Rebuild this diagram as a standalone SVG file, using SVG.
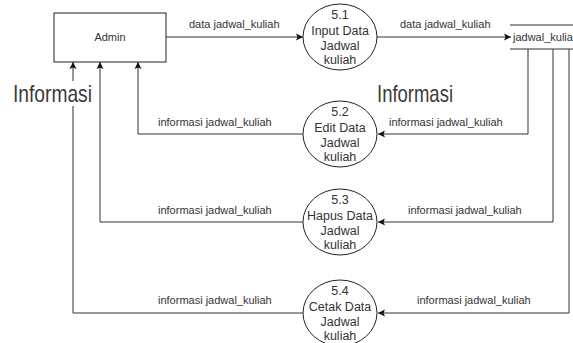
<svg xmlns="http://www.w3.org/2000/svg" width="573" height="343" viewBox="0 0 573 343">
<style>
.box{fill:#fff;stroke:#222;stroke-width:1}
.ln{fill:none;stroke:#333;stroke-width:1}
.t{font-family:"Liberation Sans",Arial,sans-serif;font-size:11px;fill:#333}
.c{font-family:"Liberation Sans",Arial,sans-serif;font-size:12.5px;fill:#333;text-anchor:middle}
.big{font-family:"Liberation Sans",Arial,sans-serif;font-size:24px;fill:#3a3a3a}
</style>
<defs>
<marker id="arr" markerUnits="userSpaceOnUse" markerWidth="8" markerHeight="8" refX="7" refY="4" orient="auto">
<path d="M0,0.5 L7,4 L0,7.5 L1.5,4 z" fill="#111"/>
</marker>
</defs>
<g id="connectors">
<path class="ln" d="M166,37 L303,37" marker-end="url(#arr)"/>
<path class="ln" d="M377,37 L511,37" marker-end="url(#arr)"/>
<path class="ln" d="M528,49 L528,134 L378,134" marker-end="url(#arr)"/>
<path class="ln" d="M553,49 L553,222 L378,222" marker-end="url(#arr)"/>
<path class="ln" d="M569,49 L569,313 L378,313" marker-end="url(#arr)"/>
<path class="ln" d="M303,134 L138,134 L138,62" marker-end="url(#arr)"/>
<path class="ln" d="M303,222 L100,222 L100,62" marker-end="url(#arr)"/>
<path class="ln" d="M303,313 L73,313 L73,62" marker-end="url(#arr)"/>
<text class="t" x="189" y="28">data jadwal_kuliah</text>
<text class="t" x="400" y="28">data jadwal_kuliah</text>
<text class="t" x="389" y="126">informasi jadwal_kuliah</text>
<text class="t" x="408" y="214">informasi jadwal_kuliah</text>
<text class="t" x="417" y="304">informasi jadwal_kuliah</text>
<text class="t" x="158" y="126">informasi jadwal_kuliah</text>
<text class="t" x="158" y="214">informasi jadwal_kuliah</text>
<text class="t" x="158" y="304">informasi jadwal_kuliah</text>
</g>
<g id="label-informasi-left">
<rect x="12" y="81" width="82" height="25" fill="#fff"/>
<text class="big" x="13" y="102" textLength="79" lengthAdjust="spacingAndGlyphs">Informasi</text>
</g>
<g id="label-informasi-mid">
<text class="big" x="377" y="102" textLength="76" lengthAdjust="spacingAndGlyphs">Informasi</text>
</g>
<g id="admin">
<rect class="box" x="54" y="13" width="112" height="49"/>
<text class="t" x="110" y="41" text-anchor="middle">Admin</text>
</g>
<g id="p51">
<ellipse class="box" cx="340" cy="37" rx="37" ry="33"/>
<text class="c" x="340" y="19">5.1</text>
<text class="c" x="340" y="35">Input Data</text>
<text class="c" x="340" y="50">Jadwal</text>
<text class="c" x="340" y="64">kuliah</text>
</g>
<g id="p52">
<ellipse class="box" cx="340" cy="134" rx="37" ry="33"/>
<text class="c" x="340" y="116">5.2</text>
<text class="c" x="340" y="132">Edit Data</text>
<text class="c" x="340" y="147">Jadwal</text>
<text class="c" x="340" y="161">kuliah</text>
</g>
<g id="p53">
<ellipse class="box" cx="340" cy="222" rx="37" ry="33"/>
<text class="c" x="340" y="204">5.3</text>
<text class="c" x="340" y="220">Hapus Data</text>
<text class="c" x="340" y="235">Jadwal</text>
<text class="c" x="340" y="249">kuliah</text>
</g>
<g id="p54">
<ellipse class="box" cx="340" cy="313" rx="37" ry="33"/>
<text class="c" x="340" y="295">5.4</text>
<text class="c" x="340" y="311">Cetak Data</text>
<text class="c" x="340" y="326">Jadwal</text>
<text class="c" x="340" y="340">kuliah</text>
</g>
<g id="datastore">
<path class="ln" d="M510,25 L573,25 M510,49 L573,49"/>
<text class="t" x="513" y="41">jadwal_kulia</text>
</g>
</svg>
